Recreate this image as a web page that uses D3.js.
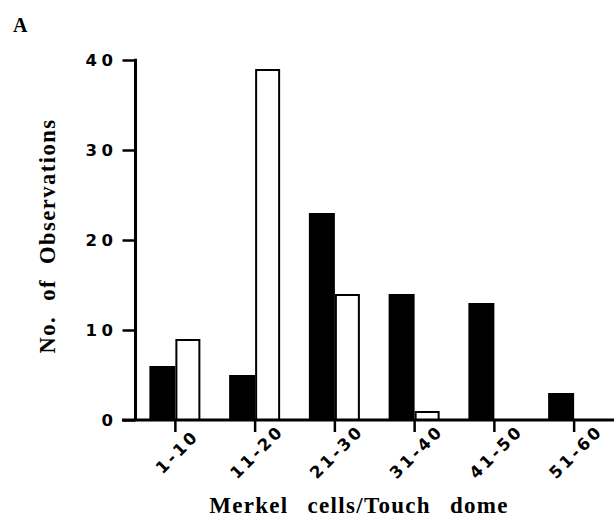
<!DOCTYPE html>
<html><head><meta charset="utf-8">
<script src="https://cdn.jsdelivr.net/npm/d3@7"></script>
<style>
html,body{margin:0;padding:0;background:#fff;}
svg{display:block;}
</style></head>
<body>
<script>
const categories = ["1-10","11-20","21-30","31-40","41-50","51-60"];
const blackValues = [6, 5, 23, 14, 13, 3];
const whiteValues = [9, 39, 14, 1, 0, 0];
const yTicks = [0, 10, 20, 30, 40];

const W = 614, H = 520;
const svg = d3.select("body").append("svg").attr("width", W).attr("height", H);

const x0 = 135.5, yBase = 420, yTop = 60;
const x = d3.scaleBand().domain(categories).range([x0, 614]).paddingInner(0).paddingOuter(0);
const y = d3.scaleLinear().domain([0, 40]).range([yBase, yTop]);
const bw = x.bandwidth();
const sub = d3.scaleBand().domain(["black","white"]).range([bw/2 - 26, bw/2 + 26]);

const data = categories.map((c, i) => ({c, b: blackValues[i], w: whiteValues[i]}));

// bars
const g = svg.append("g");
g.selectAll("rect.black").data(data).join("rect")
  .attr("class","black")
  .attr("x", d => x(d.c) + sub("black"))
  .attr("y", d => y(d.b))
  .attr("width", sub.bandwidth())
  .attr("height", d => yBase - y(d.b))
  .attr("fill", "#000");
g.selectAll("rect.white").data(data.filter(d => d.w > 0)).join("rect")
  .attr("class","white")
  .attr("x", d => x(d.c) + sub("white") + 1)
  .attr("y", d => y(d.w) + 1)
  .attr("width", sub.bandwidth() - 3)
  .attr("height", d => yBase - y(d.w) - 1)
  .attr("fill", "#fff").attr("stroke", "#000").attr("stroke-width", 2);

// y axis
const yAxis = d3.axisLeft(y).tickValues(yTicks).tickSize(13).tickPadding(5).tickFormat(d3.format("d"));
const ya = svg.append("g").attr("transform", `translate(${x0},0)`).call(yAxis);
ya.select(".domain").remove();
ya.selectAll(".tick line").attr("stroke", "#000").attr("stroke-width", 2.5);
ya.selectAll(".tick text")
  .attr("font-family", "'DejaVu Sans', sans-serif")
  .attr("font-weight", "bold").attr("font-size", 16.5)
  .attr("letter-spacing", "4.5px").attr("fill", "#000");
svg.append("line").attr("x1", x0).attr("x2", x0).attr("y1", y(40) - 1.2).attr("y2", yBase)
  .attr("stroke", "#000").attr("stroke-width", 3);

// x axis
const xAxis = d3.axisBottom(x).tickSize(12).tickFormat(d => d);
const xa = svg.append("g").attr("transform", `translate(0,${yBase})`).call(xAxis);
xa.select(".domain").remove();
xa.selectAll(".tick line").attr("stroke", "#000").attr("stroke-width", 2.5);
xa.selectAll(".tick text")
  .attr("font-family", "'DejaVu Sans', sans-serif")
  .attr("font-weight", "bold").attr("font-size", 16.5)
  .attr("letter-spacing", "3px").attr("fill", "#000")
  .attr("text-anchor", "middle").attr("dominant-baseline", "central")
  .attr("y", 0).attr("dy", null)
  .attr("transform", "translate(2,32) rotate(-45)");
svg.append("line").attr("x1", 122).attr("x2", 614).attr("y1", yBase).attr("y2", yBase)
  .attr("stroke", "#000").attr("stroke-width", 3);

// titles
svg.append("text").attr("x", 359).attr("y", 513)
  .attr("text-anchor", "middle")
  .attr("font-family", "'Liberation Serif', 'Times New Roman', serif")
  .attr("font-weight", "bold").attr("font-size", 23)
  .attr("letter-spacing", "1.3px").attr("word-spacing", "12px")
  .text("Merkel cells/Touch dome");
svg.append("text")
  .attr("transform", "translate(55,236) rotate(-90)")
  .attr("text-anchor", "middle")
  .attr("font-family", "'Liberation Serif', 'Times New Roman', serif")
  .attr("font-weight", "bold").attr("font-size", 22.5)
  .attr("letter-spacing", "1.5px").attr("word-spacing", "8px")
  .text("No. of Observations");
svg.append("text").attr("x", 13).attr("y", 32)
  .attr("font-family", "'Liberation Serif', 'Times New Roman', serif")
  .attr("font-weight", "bold").attr("font-size", 20)
  .text("A");
</script>
</body></html>
